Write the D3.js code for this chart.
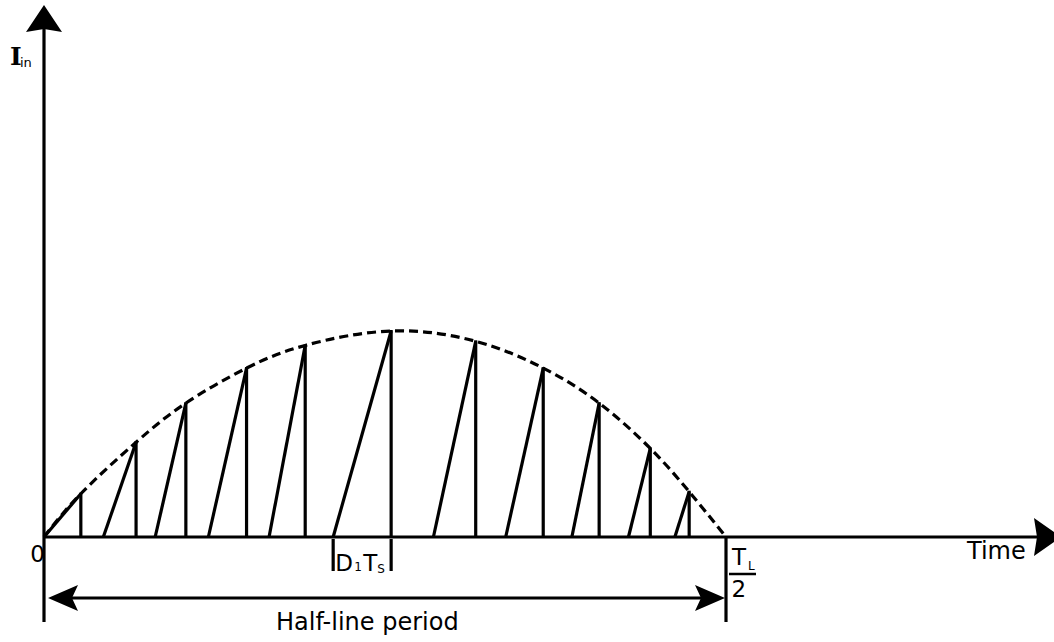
<!DOCTYPE html>
<html>
<head>
<meta charset="utf-8">
<script src="https://cdn.jsdelivr.net/npm/d3@7"></script>
<style>
  body { margin: 0; background: #fff; }
  svg { display: block; }
  text { font-family: "DejaVu Sans", sans-serif; fill: #000; }
</style>
</head>
<body>
<svg id="chart" width="1054" height="642"></svg>
<script>
// Time axis in ms: one half line period, T_L/2 = 10 ms
const halfPeriod = 10;
// Start of each switching on-time (current ramp leaves zero)
const rampStart = [0, 0.87, 1.63, 2.41, 3.30, 4.24, 5.71, 6.77, 7.74, 8.57, 9.25];
// End of each on-time (switch turns off, current drops back)
const rampEnd = [0.54, 1.35, 2.08, 2.97, 3.83, 5.09, 6.33, 7.32, 8.14, 8.89, 9.46];
// Peak input current reached at each rampEnd, relative to the line peak
const peakCurrent = [0.21, 0.46, 0.65, 0.82, 0.93, 1.00, 0.95, 0.82, 0.65, 0.43, 0.22];
// Cycle whose on-time is annotated as D1·Ts
const markedCycle = 5;

const svg = d3.select("#chart");
const x = d3.scaleLinear().domain([0, halfPeriod]).range([44, 726]);
const y = d3.scaleLinear().domain([0, 1]).range([537, 331]);

const x0 = x(0), y0 = y(0), xEnd = x(halfPeriod);
const ink = "#000";
const sw = 3.2;

// Arrowhead with a shallow notch at the back; angle in degrees, 0 = pointing right
function arrowHead(tx, ty, angle, len, half, notch) {
  const p = d3.path();
  p.moveTo(0, 0);
  p.lineTo(-len, -half);
  p.lineTo(-len + notch, 0);
  p.lineTo(-len, half);
  p.closePath();
  svg.append("path")
    .attr("d", p.toString())
    .attr("transform", `translate(${tx},${ty}) rotate(${angle})`)
    .attr("fill", ink);
}

// Axes
svg.append("line").attr("x1", x0).attr("y1", 622).attr("x2", x0).attr("y2", 26)
  .attr("stroke", ink).attr("stroke-width", sw);
arrowHead(x0, 5, -90, 27, 18, 3);

svg.append("line").attr("x1", x0).attr("y1", y0).attr("x2", 1040).attr("y2", y0)
  .attr("stroke", ink).attr("stroke-width", sw);
arrowHead(1061, y0, 0, 27, 19, 3);

// Half-period marker below the axis
svg.append("line").attr("x1", xEnd).attr("y1", y0).attr("x2", xEnd).attr("y2", 622)
  .attr("stroke", ink).attr("stroke-width", sw);

// Sawtooth input current: ramp up during on-time, then drop
const cycles = rampStart.map((s, i) => ({ s, e: rampEnd[i], p: peakCurrent[i] }));
const g = svg.append("g").attr("stroke", ink).attr("stroke-width", sw).attr("fill", "none");
g.selectAll("line.ramp").data(cycles).join("line").attr("class", "ramp")
  .attr("x1", d => x(d.s)).attr("y1", y0)
  .attr("x2", d => x(d.e)).attr("y2", d => y(d.p));
g.selectAll("line.drop").data(cycles).join("line").attr("class", "drop")
  .attr("x1", d => x(d.e)).attr("y1", d => y(d.p) - 1)
  .attr("x2", d => x(d.e)).attr("y2", y0);

// Envelope through the peak currents
const envPts = [[0, 0], ...rampEnd.map((t, i) => [t, peakCurrent[i]]), [halfPeriod, 0]];
svg.append("path")
  .attr("d", d3.line().x(d => x(d[0])).y(d => y(d[1])).curve(d3.curveNatural)(envPts))
  .attr("fill", "none").attr("stroke", ink).attr("stroke-width", sw)
  .attr("stroke-dasharray", "9,5");

// D1·Ts on-time marker
const ts0 = x(rampStart[markedCycle]), ts1 = x(rampEnd[markedCycle]);
[ts0, ts1].forEach(xx => svg.append("line")
  .attr("x1", xx).attr("y1", 539).attr("x2", xx).attr("y2", 571)
  .attr("stroke", ink).attr("stroke-width", sw));
svg.append("text").attr("x", ts0 + 2).attr("y", 571).attr("font-size", 23).text("D");
svg.append("text").attr("x", ts0 + 21).attr("y", 571).attr("font-size", 12).text("1");
svg.append("text").attr("x", ts0 + 30).attr("y", 571).attr("font-size", 23).text("T");
svg.append("text").attr("x", ts0 + 44).attr("y", 573).attr("font-size", 12).text("S");

// Axis labels
svg.append("text").attr("x", 10).attr("y", 65).attr("font-size", 25).attr("font-weight", "bold")
  .style("font-family", "'DejaVu Serif', serif").text("I");
svg.append("text").attr("x", 20).attr("y", 67).attr("font-size", 13).text("in");

svg.append("text").attr("x", x0 + 1).attr("y", 562).attr("text-anchor", "end")
  .attr("font-size", 23).text("0");
svg.append("text").attr("x", 967).attr("y", 559).attr("font-size", 24).text("Time");

// T_L / 2 fraction
svg.append("text").attr("x", xEnd + 6).attr("y", 565).attr("font-size", 23).text("T");
svg.append("text").attr("x", xEnd + 22).attr("y", 570).attr("font-size", 12).text("L");
svg.append("line").attr("x1", xEnd + 3).attr("y1", 574).attr("x2", xEnd + 30).attr("y2", 574)
  .attr("stroke", ink).attr("stroke-width", 2.5);
svg.append("text").attr("x", xEnd + 5.5).attr("y", 597).attr("font-size", 23).text("2");

// Half-line period span
const spanY = 598;
svg.append("line").attr("x1", x0 + 20).attr("y1", spanY).attr("x2", xEnd - 20).attr("y2", spanY)
  .attr("stroke", ink).attr("stroke-width", sw);
arrowHead(x0 + 4, spanY, 180, 30, 13, 6);
arrowHead(xEnd - 1, spanY, 0, 30, 13, 6);
svg.append("text").attr("x", 276).attr("y", 630).attr("font-size", 24).text("Half-line period");
</script>
</body>
</html>
